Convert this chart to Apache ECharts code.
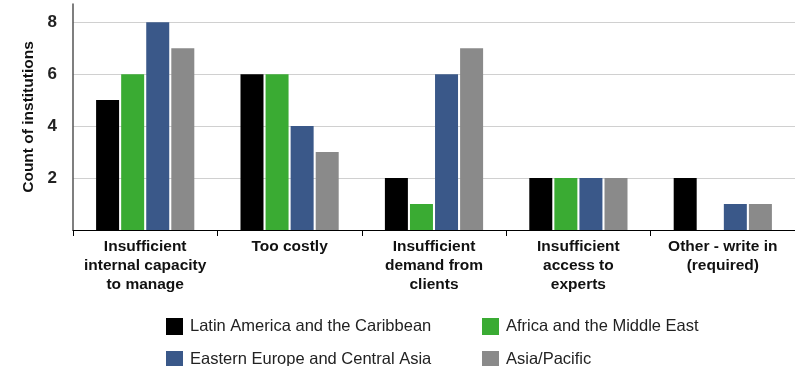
<!DOCTYPE html>
<html>
<head>
<meta charset="utf-8">
<script src="https://cdn.jsdelivr.net/npm/echarts@6/dist/echarts.min.js"></script>
<style>
  html, body { margin: 0; padding: 0; background: #fff; }
  #chart { width: 795px; height: 366px; }
</style>
</head>
<body>
<div id="chart"></div>
<script>
// reasons given, wrapped as in the picture
const categories = [
  'Insufficient\ninternal capacity\nto manage',
  'Too costly',
  'Insufficient\ndemand from\nclients',
  'Insufficient\naccess to\nexperts',
  'Other - write in\n(required)'
];
const regions = [
  'Latin America and the Caribbean',
  'Africa and the Middle East',
  'Eastern Europe and Central Asia',
  'Asia/Pacific'
];
const latinAmerica = [5, 6, 2, 2, 2];
const africaMiddleEast = [6, 6, 1, 2, 0];
const easternEurope = [8, 4, 6, 2, 1];
const asiaPacific = [7, 3, 7, 2, 1];

const fontFamily = '"Liberation Sans", Arial, Helvetica, sans-serif';

function bar(name, data, color) {
  return {
    name: name,
    type: 'bar',
    data: data,
    barWidth: 23,
    barGap: '9%',
    itemStyle: { color: color }
  };
}

// one legend per item so the two columns line up like the original
const legendSpots = [[166, 318], [482, 318], [166, 351], [482, 351]];
let legends = regions.map((name, i) => ({
  left: legendSpots[i][0], top: legendSpots[i][1], padding: 0,
  itemWidth: 17, itemHeight: 17, icon: 'rect',
  textStyle: { fontSize: 16.5, color: '#222', fontFamily: fontFamily, padding: [0, 0, 0, 2] },
  data: [name]
}));

let option = {
  animation: false,
  textStyle: { fontFamily: fontFamily },
  grid: { left: 73, right: 0, top: 4, bottom: 136 },
  legend: legends,
  xAxis: {
    type: 'category',
    data: categories,
    axisLine: { lineStyle: { color: '#000', width: 1.2 } },
    axisTick: { show: true, length: 6, lineStyle: { color: '#000' } },
    axisLabel: {
      interval: 0, margin: 7, fontSize: 15.5, fontWeight: 'bold',
      lineHeight: 19, color: '#111', fontFamily: fontFamily
    }
  },
  yAxis: {
    type: 'value',
    min: 0, max: 8.7, interval: 2,
    name: 'Count of institutions',
    nameLocation: 'middle', nameGap: 35,
    nameTextStyle: { fontSize: 15.5, fontWeight: 'bold', color: '#111', fontFamily: fontFamily },
    axisLine: { show: true, lineStyle: { color: '#555', width: 1.5 } },
    axisTick: { show: false },
    axisLabel: {
      showMinLabel: false, showMaxLabel: false, margin: 16,
      fontSize: 17, fontWeight: 'bold', color: '#222', fontFamily: fontFamily
    },
    splitLine: { showMinLine: false, showMaxLine: false, lineStyle: { color: '#d0d0d0', width: 1 } }
  },
  series: [
    bar(regions[0], latinAmerica, '#000000'),
    bar(regions[1], africaMiddleEast, '#3aab33'),
    bar(regions[2], easternEurope, '#3a5889'),
    bar(regions[3], asiaPacific, '#8a8a8a')
  ]
};

let myChart = echarts.init(document.getElementById('chart'));
myChart.setOption(option);
</script>
</body>
</html>
